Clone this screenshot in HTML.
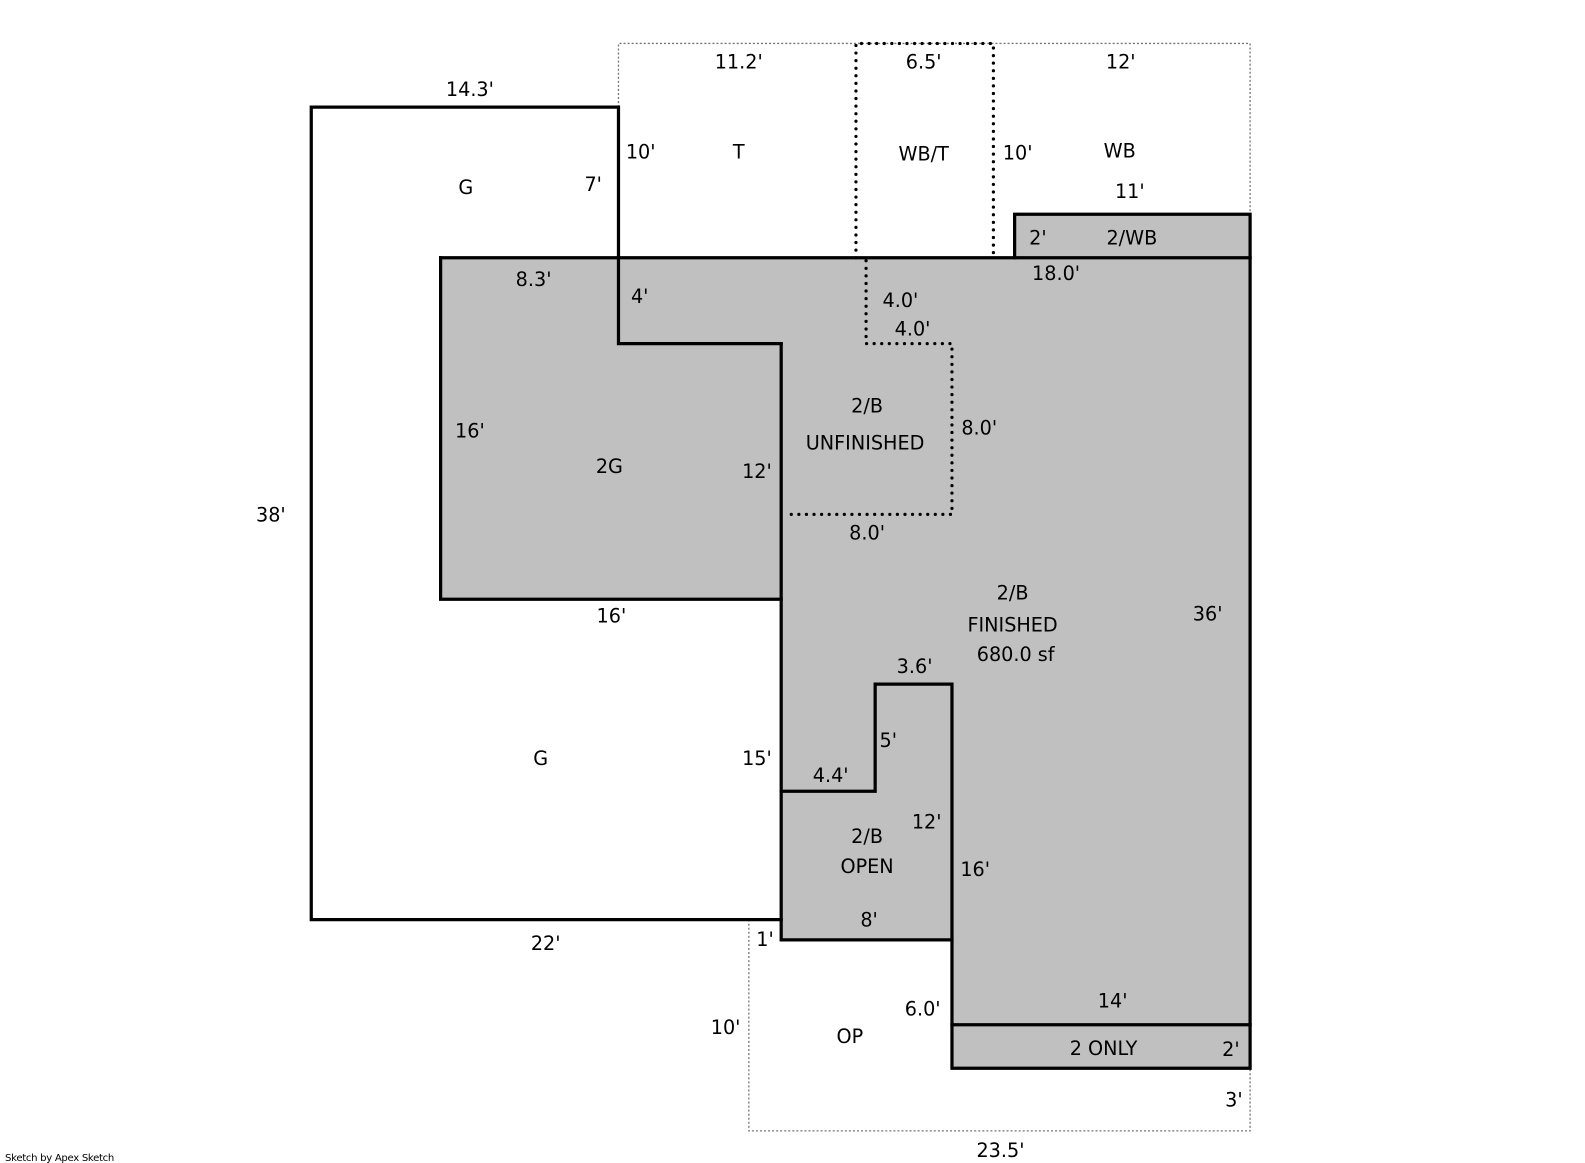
<!DOCTYPE html>
<html><head><meta charset="utf-8"><style>
html,body{margin:0;padding:0;background:#fff;}
svg{display:block}
text{font-family:"DejaVu Sans","Liberation Sans",sans-serif;font-size:19px;fill:#000;}
</style></head><body>
<svg width="1585" height="1163" viewBox="0 0 1568.4 1150.8" preserveAspectRatio="none" xmlns="http://www.w3.org/2000/svg">
<!-- grey fills -->
<polygon points="436,255 1237,255 1237,1057 942,1057 942,930 773,930 773,593 436,593" fill="#c0c0c0"/>
<rect x="1004" y="212" width="233" height="43" fill="#c0c0c0"/>
<!-- thin dotted outlines -->
<g stroke="#777" stroke-width="1.3" stroke-dasharray="2 2" fill="none">
<polyline points="612,106 612,43 1237,43 1237,212"/>
<polyline points="741,910 741,1119 1237,1119 1237,1057"/>
</g>
<!-- heavy dotted -->
<g stroke="#000" stroke-width="3.2" stroke-linecap="round" stroke-dasharray="0 7.5" fill="none">
<polyline points="847,255 847,43 983,43 983,255"/>
<polyline points="857,258 857,340 942,340 942,509 779,509"/>
</g>
<!-- solid thick lines -->
<g stroke="#000" stroke-width="3.2" fill="none" stroke-linecap="square">
<polyline points="612,255 612,106 308,106 308,910 773,910"/>
<polyline points="612,255 612,340 773,340"/>
<polyline points="436,255 1237,255"/>
<polyline points="436,255 436,593 773,593"/>
<polyline points="773,340 773,930 942,930 942,1057 1237,1057 1237,212 1004,212 1004,255"/>
<polyline points="773,783 866,783 866,677 942,677 942,930"/>
<polyline points="942,1014 1237,1014"/>
</g>
<!-- labels -->
<g text-anchor="middle">
<text x="465" y="95">14.3'</text>
<text x="731" y="68">11.2'</text>
<text x="914" y="68">6.5'</text>
<text x="1109" y="68">12'</text>
<text x="634" y="157">10'</text>
<text x="731" y="157">T</text>
<text x="914" y="159">WB/T</text>
<text x="1007" y="158">10'</text>
<text x="1108" y="156">WB</text>
<text x="461" y="192">G</text>
<text x="587" y="189">7'</text>
<text x="1118" y="196">11'</text>
<text x="1027" y="242">2'</text>
<text x="1120" y="242">2/WB</text>
<text x="528" y="283">8.3'</text>
<text x="633" y="300">4'</text>
<text x="1045" y="277">18.0'</text>
<text x="891" y="304">4.0'</text>
<text x="903" y="332">4.0'</text>
<text x="858" y="408">2/B</text>
<text x="856" y="445">UNFINISHED</text>
<text x="969" y="430">8.0'</text>
<text x="465" y="433">16'</text>
<text x="603" y="468">2G</text>
<text x="749" y="473">12'</text>
<text x="268" y="516">38'</text>
<text x="858" y="534">8.0'</text>
<text x="1002" y="593">2/B</text>
<text x="1002" y="625">FINISHED</text>
<text x="1005" y="654">680.0 sf</text>
<text x="1195" y="614">36'</text>
<text x="605" y="616">16'</text>
<text x="905" y="666">3.6'</text>
<text x="879" y="739">5'</text>
<text x="535" y="757">G</text>
<text x="749" y="757">15'</text>
<text x="822" y="774">4.4'</text>
<text x="917" y="820">12'</text>
<text x="858" y="834">2/B</text>
<text x="858" y="864">OPEN</text>
<text x="965" y="867">16'</text>
<text x="860" y="917">8'</text>
<text x="540" y="940">22'</text>
<text x="757" y="936">1'</text>
<text x="1101" y="997">14'</text>
<text x="913" y="1005">6.0'</text>
<text x="718" y="1023">10'</text>
<text x="841" y="1032">OP</text>
<text x="1092" y="1044">2 ONLY</text>
<text x="1218" y="1045">2'</text>
<text x="1221" y="1095">3'</text>
<text x="990" y="1145">23.5'</text>
</g>
<text x="5" y="1149" style="font-size:10px;letter-spacing:-0.3px">Sketch by Apex Sketch</text>
</svg>
</body></html>
